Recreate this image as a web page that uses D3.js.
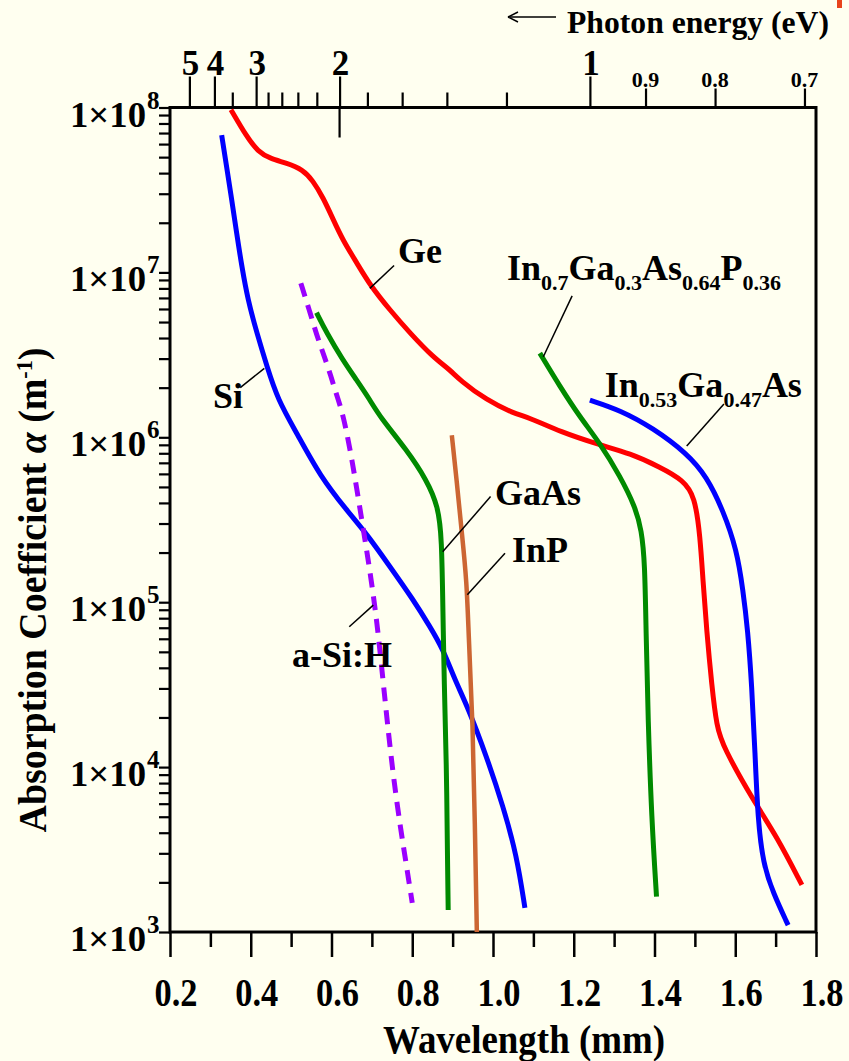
<!DOCTYPE html>
<html><head><meta charset="utf-8">
<script src="https://cdn.jsdelivr.net/npm/d3@7"></script>
<style>
html,body{margin:0;padding:0;background:#FFFFF0;}
svg{display:block;font-family:"Liberation Serif","Times New Roman",serif;font-weight:bold;}
</style></head><body>
<svg id="c" width="849" height="1061"></svg>
<script>
// ---------- data (wavelength in µm, absorption coefficient in 1/m) ----------
const siLambda = [0.328,0.340,0.353,0.365,0.378,0.393,0.415,0.440,0.467,0.514,0.572,0.638,0.687,0.745,0.802,0.844,0.876,0.905,0.938,0.984,1.025,1.059,1.079];
const siAlpha  = [6.8e7,4.4e7,2.75e7,1.73e7,1.08e7,6.8e6,4.3e6,2.7e6,1.69e6,1.06e6,5.8e5,3.6e5,2.6e5,1.64e5,1.04e5,7.1e4,5.2e4,3.4e4,2.3e4,1.16e4,5.8e3,2.9e3,1.4e3];

const geLambda = [0.351,0.390,0.418,0.448,0.489,0.529,0.554,0.579,0.604,0.628,0.663,0.695,0.745,0.794,0.851,0.894,0.918,0.984,1.050,1.092,1.166,1.265,1.339,1.414,1.471,1.500,1.513,1.520,1.529,1.542,1.554,1.570,1.644,1.703,1.765];
const geAlpha  = [9.7e7,6.65e7,5.4e7,4.9e7,4.6e7,4.2e7,3.6e7,2.85e7,2.1e7,1.57e7,1.14e7,8.4e6,5.9e6,4.3e6,3.07e6,2.56e6,2.22e6,1.68e6,1.40e6,1.31e6,1.08e6,8.97e5,8.0e5,6.6e5,5.5e5,4.4e5,2.5e5,1.36e5,6.8e4,3.1e4,1.76e4,1.33e4,6.3e3,3.8e3,1.93e3];

const ingaasLambda = [1.240,1.315,1.396,1.480,1.529,1.570,1.604,1.619,1.631,1.641,1.649,1.656,1.669,1.694,1.731];
const ingaasAlpha  = [1.68e6,1.46e6,1.14e6,8.0e5,5.8e5,3.6e5,2.07e5,1.19e5,6.8e4,3.1e4,1.22e4,4.8e3,2.6e3,1.72e3,1.10e3];

const ingaaspLambda = [1.116,1.166,1.215,1.265,1.315,1.352,1.368,1.376,1.379,1.384,1.393,1.405];
const ingaaspAlpha  = [3.24e6,2.03e6,1.33e6,9.2e5,5.8e5,3.8e5,2.74e5,1.73e5,6.8e4,1.93e4,4.8e3,1.64e3];

const gaasLambda = [0.563,0.588,0.628,0.662,0.695,0.720,0.786,0.836,0.864,0.873,0.876,0.879,0.885,0.886,0.889];
const gaasAlpha  = [5.7e6,4.3e6,2.94e6,2.23e6,1.69e6,1.33e6,8.4e5,5.5e5,3.8e5,2.5e5,8.6e4,3.4e4,9.2e3,5.0e3,1.36e3];

const inpLambda = [0.898,0.910,0.922,0.935,0.940,0.950,0.955,0.960];
const inpAlpha  = [1.03e6,5.5e5,2.74e5,1.36e5,5.9e4,1.85e4,4.6e3,1.0e3];

const asihLambda = [0.524,0.547,0.567,0.589,0.614,0.628,0.650,0.675,0.695,0.712,0.724,0.737,0.752,0.770,0.786,0.800];
const asihAlpha  = [8.6e6,5.7e6,3.9e6,2.8e6,1.76e6,1.40e6,7.6e5,3.15e5,1.57e5,7.8e4,4.1e4,2.0e4,9.2e3,4.4e3,2.5e3,1.5e3];

// axis tick values
const xMajorTicks = [0.2,0.4,0.6,0.8,1.0,1.2,1.4,1.6,1.8];
const xMinorTicks = [0.3,0.5,0.7,0.9,1.1,1.3,1.5,1.7];
const yDecades = [1e3,1e4,1e5,1e6,1e7,1e8];
const energyBigTicks = [5,4,3,2,1];
const energySmallTicks = [0.9,0.8,0.7];
const energyMinorTicks = [3.5,2.8,2.6,2.4,2.2,1.8,1.6,1.4,1.2];
const hc = 1.24; // eV·µm

// label anchors (data coordinates): [lambda, alpha]
const labelNames = ["Ge","Si","a-Si:H","GaAs","InP","InGaAsP","InGaAs"];
const labelAt    = [[0.765,1.14e7],[0.3065,1.5e6],[0.502,4.05e4],[1.005,3.88e5],[1.047,1.75e5],[1.0347,9.0e6],[1.277,1.76e6]];
const leaderFrom = [[0.695,8.0e6],[0.4336,2.62e6],[0.7035,9.6e4],[0.8754,2.02e5],[0.9364,1.11e5],[1.1246,3.08e6],[1.4798,8.85e5]];
const leaderTo   = [[0.755,1.1e7],[0.374,2.0e6],[0.644,7.1e4],[0.994,4.37e5],[1.0297,1.98e5],[1.196,7.2e6],[1.572,1.59e6]];

// ---------- drawing ----------
const W = 849, H = 1061;
const M = {left:170, right:816, top:107.5, bottom:932};
const svg = d3.select("#c");
svg.append("rect").attr("width",W).attr("height",H).attr("fill","#FFFFF0");

const x = d3.scaleLinear().domain([0.2,1.8]).range([M.left,M.right]);
const y = d3.scaleLog().domain([1e3,1e8]).range([M.bottom,M.top]);

function styleAxis(g, sw){
  g.select(".domain").remove();
  g.selectAll(".tick line").attr("stroke","#000").attr("stroke-width",sw);
  g.selectAll(".tick text").remove();
}

// bottom axis
svg.append("g").attr("transform",`translate(0,${M.bottom})`)
  .call(d3.axisBottom(x).tickValues(xMinorTicks).tickSize(15).tickFormat(""))
  .call(g=>styleAxis(g,2.5));
svg.append("g").attr("transform",`translate(0,${M.bottom})`)
  .call(d3.axisBottom(x).tickValues(xMajorTicks).tickSize(25).tickFormat(""))
  .call(g=>styleAxis(g,2.5));
svg.append("g").selectAll("text").data(xMajorTicks).join("text")
  .attr("x",d=>x(d)+6).attr("y",1006).attr("text-anchor","middle")
  .attr("font-size",39).attr("textLength",43).attr("lengthAdjust","spacingAndGlyphs")
  .text(d=>d3.format(".1f")(d));

// left axis (log minor ticks)
const leftTicks = [];
yDecades.forEach((d,i)=>{ if(i<yDecades.length-1){ for(let k=1;k<10;k++) leftTicks.push(k*d);} else leftTicks.push(d); });
svg.append("g").attr("transform",`translate(${M.left},0)`)
  .call(d3.axisLeft(y).tickValues(leftTicks).tickSize(11).tickFormat(""))
  .call(g=>styleAxis(g,2.2));
const yl = svg.append("g").selectAll("g").data(yDecades).join("g");
yl.append("text").attr("x",146).attr("y",d=>y(d)+19).attr("text-anchor","end")
  .attr("font-size",36).attr("textLength",76).attr("lengthAdjust","spacingAndGlyphs").text("1×10");
yl.append("text").attr("x",147).attr("y",d=>y(d)+1).attr("font-size",25)
  .text(d=>Math.round(Math.log10(d)));

// top axis (photon energy)
svg.append("g").attr("transform",`translate(0,${M.top})`)
  .call(d3.axisTop(x).tickValues(energyMinorTicks.map(e=>hc/e)).tickSize(15).tickFormat(""))
  .call(g=>styleAxis(g,2.2));
svg.append("g").attr("transform",`translate(0,${M.top})`)
  .call(d3.axisTop(x).tickValues(energySmallTicks.map(e=>hc/e)).tickSize(19).tickFormat(""))
  .call(g=>styleAxis(g,2.2));
svg.append("g").attr("transform",`translate(0,${M.top})`)
  .call(d3.axisTop(x).tickValues(energyBigTicks.map(e=>hc/e)).tickSize(31).tickFormat(""))
  .call(g=>styleAxis(g,2.2));
svg.append("line").attr("x1",x(hc/2)).attr("x2",x(hc/2)).attr("y1",M.top).attr("y2",M.top+30)
  .attr("stroke","#000").attr("stroke-width",2.2);
svg.append("g").selectAll("text").data(energyBigTicks).join("text")
  .attr("x",d=>x(hc/d)+1).attr("y",75).attr("text-anchor","middle").attr("font-size",35).text(d=>d);
svg.append("g").selectAll("text").data(energySmallTicks).join("text")
  .attr("x",d=>x(hc/d)).attr("y",87).attr("text-anchor","middle").attr("font-size",22).text(d=>d);

// frame
svg.append("rect").attr("x",M.left).attr("y",M.top).attr("width",M.right-M.left).attr("height",M.bottom-M.top)
  .attr("fill","none").attr("stroke","#000").attr("stroke-width",3);

// axis titles
svg.append("text").attr("x",524).attr("y",1053).attr("text-anchor","middle").attr("font-size",40)
  .attr("textLength",282).attr("lengthAdjust","spacingAndGlyphs")
  .text("Wavelength (mm)");
const yt = svg.append("text").attr("transform","translate(46,590) rotate(-90)")
  .attr("text-anchor","middle").attr("font-size",41)
  .attr("textLength",485).attr("lengthAdjust","spacingAndGlyphs");
yt.append("tspan").text("Absorption Coefficient ");
yt.append("tspan").attr("font-style","italic").text("α");
yt.append("tspan").text("  (m");
yt.append("tspan").attr("font-size",24).attr("dy",-14).text("-1");
yt.append("tspan").attr("dy",14).text(")");

// photon energy header
svg.append("line").attr("x1",510).attr("x2",556).attr("y1",17).attr("y2",17).attr("stroke","#000").attr("stroke-width",1.5);
svg.append("path").attr("d","M508,17 L518,12 M508,17 L518,22").attr("stroke","#000").attr("stroke-width",1.5).attr("fill","none");
svg.append("text").attr("x",567).attr("y",33).attr("font-size",32)
  .attr("textLength",262).attr("lengthAdjust","spacingAndGlyphs").text("Photon energy (eV)");
svg.append("rect").attr("x",837).attr("y",0).attr("width",5).attr("height",8).attr("fill","#E8441C");

// curves
const line = d3.line().x(d=>x(d[0])).y(d=>y(d[1])).curve(d3.curveBasis);
const series = [
  {l:geLambda, a:geAlpha, c:"#FF0000", w:5},
  {l:siLambda, a:siAlpha, c:"#0000FF", w:5},
  {l:ingaasLambda, a:ingaasAlpha, c:"#0000FF", w:5},
  {l:ingaaspLambda, a:ingaaspAlpha, c:"#008A00", w:5},
  {l:gaasLambda, a:gaasAlpha, c:"#008A00", w:5},
  {l:inpLambda, a:inpAlpha, c:"#CC6633", w:4.5},
  {l:asihLambda, a:asihAlpha, c:"#9A00FF", w:5, dash:"14,9"}
];
svg.append("g").selectAll("path").data(series).join("path")
  .attr("d",s=>line(s.l.map((v,i)=>[v,s.a[i]])))
  .attr("fill","none").attr("stroke",s=>s.c).attr("stroke-width",s=>s.w)
  .attr("stroke-dasharray",s=>s.dash||null);

// leaders
svg.append("g").selectAll("line").data(labelNames).join("line")
  .attr("x1",(d,i)=>x(leaderFrom[i][0])).attr("y1",(d,i)=>y(leaderFrom[i][1]))
  .attr("x2",(d,i)=>x(leaderTo[i][0])).attr("y2",(d,i)=>y(leaderTo[i][1]))
  .attr("stroke","#000").attr("stroke-width",1.5);

// labels
function addLabel(i, parts){
  const t = svg.append("text").attr("x",x(labelAt[i][0])).attr("y",y(labelAt[i][1])).attr("font-size",36);
  let sub=false;
  parts.forEach(p=>{
    const isSub = p.startsWith("_");
    const txt = isSub ? p.slice(1) : p;
    const ts = t.append("tspan").text(txt);
    if(isSub && !sub){ ts.attr("dy",10).attr("font-size",22); sub=true; }
    else if(isSub){ ts.attr("font-size",22); }
    else if(!isSub && sub){ ts.attr("dy",-10); sub=false; }
  });
}
addLabel(0,["Ge"]);
addLabel(1,["Si"]);
addLabel(2,["a-Si:H"]);
addLabel(3,["GaAs"]);
addLabel(4,["InP"]);
addLabel(5,["In","_0.7","Ga","_0.3","As","_0.64","P","_0.36"]);
addLabel(6,["In","_0.53","Ga","_0.47","As"]);
</script></body></html>
